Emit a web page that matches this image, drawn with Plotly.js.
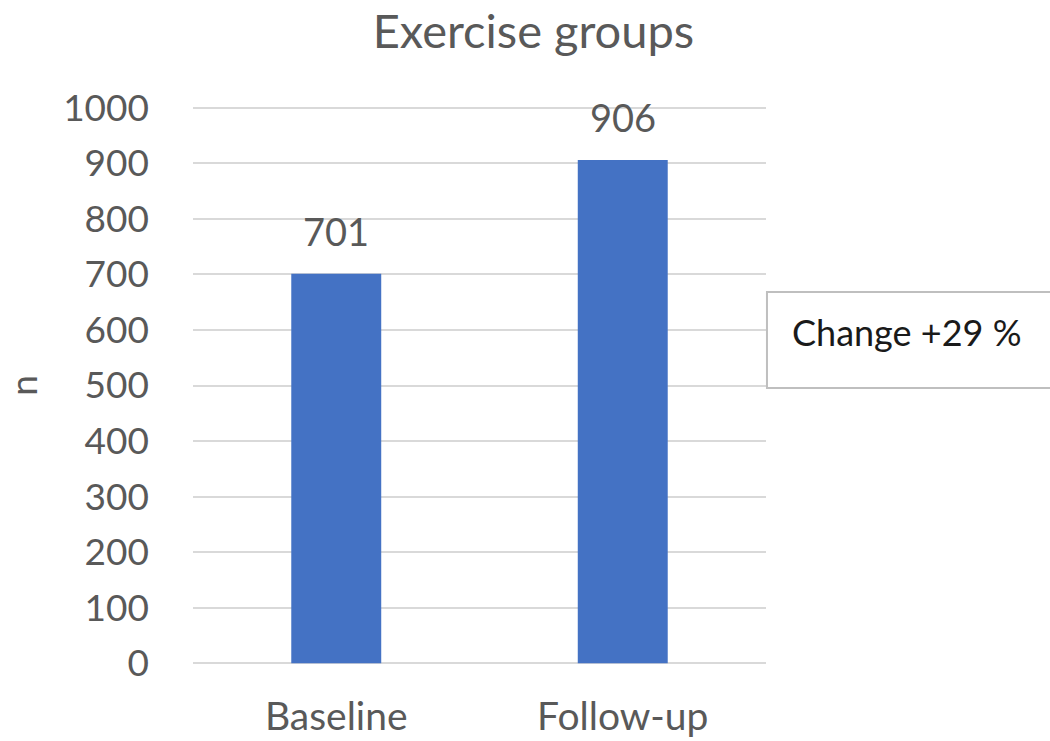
<!DOCTYPE html>
<html>
<head>
<meta charset="utf-8">
<script src="https://cdn.plot.ly/plotly-3.0.1.min.js"></script>
<style>html,body{margin:0;padding:0;background:#fff;}#chart{width:1050px;height:741px;}</style>
</head>
<body>
<div id="chart"></div>
<script>
var categories = ["Baseline", "Follow-up"];
var counts = [701, 906];
var chartTitle = "Exercise groups";
var yTitle = "n";
var changeLabel = "Change +29 %";

var FONT = "Lato, 'Open Sans', sans-serif";
var GREY = "#595959";

var trace = {
  type: "bar",
  x: categories,
  y: counts,
  marker: {color: "#4472C4"},
  hoverinfo: "none"
};

var valueLabels = categories.map(function (c, i) {
  return {
    x: c, y: counts[i], xref: "x", yref: "y",
    text: String(counts[i]), showarrow: false,
    xanchor: "center", yanchor: "bottom", yshift: 18,
    font: {family: FONT, size: 38, color: GREY}
  };
});

var layout = {
  width: 1050, height: 741,
  margin: {l: 193, r: 284, t: 105, b: 75, pad: 0},
  paper_bgcolor: "#fff", plot_bgcolor: "#fff",
  bargap: 0.686,
  showlegend: false,
  font: {family: FONT, color: GREY},
  title: {text: chartTitle, font: {family: FONT, size: 47, color: GREY}, x: 0.508, xanchor: "center", y: 0.957, yanchor: "middle"},
  xaxis: {
    type: "category",
    tickfont: {family: FONT, size: 39, color: GREY},
    showgrid: false, zeroline: false, showline: false, ticks: "",
    ticklabelstandoff: 24
  },
  yaxis: {
    range: [-5, 1005], dtick: 100, tick0: 0,
    tickfont: {family: FONT, size: 37, color: GREY},
    gridcolor: "#d9d9d9", gridwidth: 2,
    zeroline: false, showline: false, ticks: "",
    ticklabelstandoff: 43,
    title: {text: yTitle, font: {family: FONT, size: 37, color: GREY}, standoff: 30}
  },
  shapes: [{
    type: "rect", xref: "paper", yref: "paper",
    x0: 1.0017, x1: 1.6, y0: 0.4955, y1: 0.6665,
    line: {color: "#bfbfbf", width: 2}, fillcolor: "#fff"
  }],
  annotations: valueLabels.concat([{
    xref: "paper", yref: "paper", x: 1.246, y: 0.5955,
    text: changeLabel, showarrow: false,
    font: {family: FONT, size: 36, color: "#1a1a1a"},
    xanchor: "center", yanchor: "middle"
  }])
};

Plotly.newPlot("chart", [trace], layout, {displayModeBar: false, staticPlot: true});
</script>
</body>
</html>
